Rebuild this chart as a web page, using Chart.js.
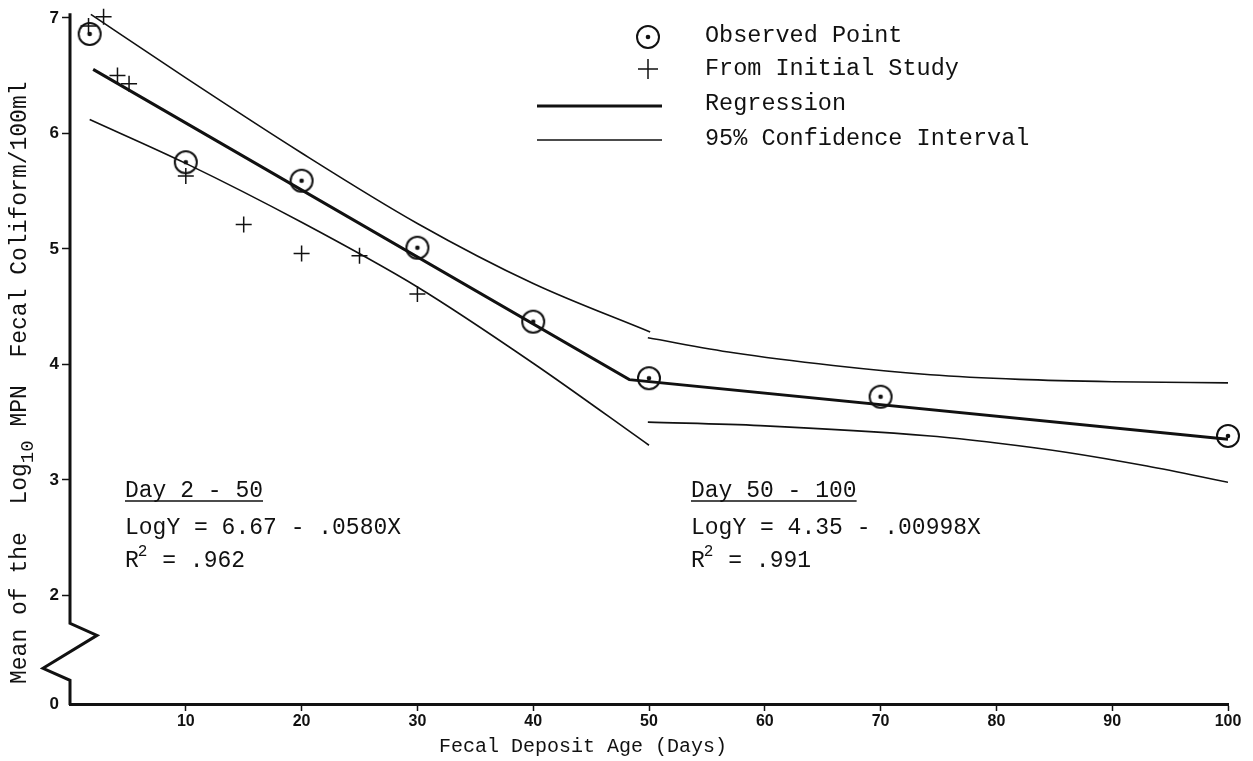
<!DOCTYPE html>
<html lang="en">
<head>
  <meta charset="UTF-8">
  <title>Fecal Coliform Die-off</title>
  <script src="https://cdn.jsdelivr.net/npm/chart.js"></script>
  <style>
    html, body { margin: 0; padding: 0; background: #fff; }
    #wrap { width: 1253px; height: 761px; }
  </style>
</head>
<body>
  <div id="wrap"><canvas id="decay"></canvas></div>

  <script>
    // observed means (circles)
    const obsX = [1.7, 10, 20, 30, 40, 50, 70, 100];
    const obsY = [6.86, 5.75, 5.59, 5.01, 4.37, 3.88, 3.72, 3.38];

    // points from the initial study (crosses)
    const initX = [1.6, 2.9, 4.1, 5.1, 10, 15, 20, 25, 30];
    const initY = [6.93, 7.01, 6.50, 6.43, 5.63, 5.21, 4.96, 4.94, 4.61];

    // regression: LogY = 6.67 - .0580X (day 2-50), LogY = 4.35 - .00998X (day 50-100)
    const regX = [2, 48.3, 100];
    const regY = [6.554, 3.868, 3.352];

    // 95% confidence bands, day 2-50
    const ciUp1X = [1.8, 10, 20, 30, 40, 50.1];
    const ciUp1Y = [7.03, 6.48, 5.83, 5.22, 4.70, 4.28];
    const ciLo1X = [1.7, 10, 20, 30, 40, 50];
    const ciLo1Y = [6.12, 5.74, 5.23, 4.67, 4.01, 3.30];

    // 95% confidence bands, day 50-100
    const ciUp2X = [49.9, 57.3, 65.9, 74.3, 82, 90, 100];
    const ciUp2Y = [4.23, 4.10, 3.99, 3.91, 3.87, 3.85, 3.84];
    const ciLo2X = [49.9, 59.6, 74.3, 80, 86, 93, 100];
    const ciLo2Y = [3.50, 3.47, 3.38, 3.32, 3.24, 3.12, 2.98];

    const xTicks = [10, 20, 30, 40, 50, 60, 70, 80, 90, 100];
    const yTicks = [2, 3, 4, 5, 6, 7];
    const yBottom = 1.06;   // broken axis: the "0" sits here
    const yTop = 7.04;

    const legendLabels = ['Observed Point', 'From Initial Study', 'Regression', '95% Confidence Interval'];
    const fit1 = { head: 'Day 2 - 50', eq: 'LogY = 6.67 - .0580X', r2: ' = .962' };
    const fit2 = { head: 'Day 50 - 100', eq: 'LogY = 4.35 - .00998X', r2: ' = .991' };

    const ink = '#111';
    const mono = '"Liberation Mono", "Courier New", monospace';
    const sans = '"Liberation Sans", Arial, sans-serif';

    const pts = (xs, ys) => xs.map((x, i) => ({ x: x, y: ys[i] }));

    // circle with a dot in the middle
    function makeObsMarker() {
      const c = document.createElement('canvas');
      c.width = 28; c.height = 28;
      const g = c.getContext('2d');
      g.strokeStyle = ink;
      g.lineWidth = 2;
      g.beginPath(); g.arc(14, 14, 11, 0, Math.PI * 2); g.stroke();
      g.fillStyle = ink;
      g.beginPath(); g.arc(14, 14, 2.3, 0, Math.PI * 2); g.fill();
      return c;
    }
    const obsMarker = makeObsMarker();

    function bandLine(xs, ys) {
      return {
        data: pts(xs, ys), showLine: true, borderColor: ink, borderWidth: 1.6,
        pointRadius: 0, cubicInterpolationMode: 'monotone', fill: false
      };
    }

    const decorations = {
      id: 'decorations',
      afterDraw(chart) {
        const ctx = chart.ctx;
        const ys = chart.scales.y;
        const ax = chart.chartArea.left;
        ctx.save();
        ctx.strokeStyle = ink;
        ctx.fillStyle = ink;

        // y axis with the break zig-zag near the bottom
        ctx.lineWidth = 3;
        ctx.lineJoin = 'miter';
        ctx.beginPath();
        ctx.moveTo(ax, chart.chartArea.top);
        ctx.lineTo(ax, ys.getPixelForValue(1.758));
        ctx.lineTo(ax + 27, ys.getPixelForValue(1.654));
        ctx.lineTo(ax - 27, ys.getPixelForValue(1.369));
        ctx.lineTo(ax, ys.getPixelForValue(1.265));
        ctx.lineTo(ax, chart.chartArea.bottom + 1);
        ctx.stroke();

        // legend
        ctx.font = '23.5px ' + mono;
        ctx.textBaseline = 'middle';
        ctx.textAlign = 'left';
        ctx.drawImage(obsMarker, 648 - 14, 37 - 14);
        ctx.lineWidth = 1.5;
        ctx.beginPath();
        ctx.moveTo(648, 59); ctx.lineTo(648, 79);
        ctx.moveTo(638, 69); ctx.lineTo(658, 69);
        ctx.stroke();
        ctx.lineWidth = 3;
        ctx.beginPath(); ctx.moveTo(537, 106); ctx.lineTo(662, 106); ctx.stroke();
        ctx.lineWidth = 1.6;
        ctx.beginPath(); ctx.moveTo(537, 140); ctx.lineTo(662, 140); ctx.stroke();
        const rows = [36, 69, 104, 139];
        legendLabels.forEach((t, i) => ctx.fillText(t, 705, rows[i]));

        // fitted equations
        function fitBlock(f, x) {
          ctx.font = '23px ' + mono;
          ctx.textBaseline = 'alphabetic';
          ctx.fillText(f.head, x, 497);
          const w = ctx.measureText(f.head).width;
          ctx.lineWidth = 1.3;
          ctx.beginPath(); ctx.moveTo(x, 501); ctx.lineTo(x + w, 501); ctx.stroke();
          ctx.fillText(f.eq, x, 534);
          ctx.fillText('R', x, 567);
          const rw = ctx.measureText('R').width;
          ctx.font = '16px ' + mono;
          ctx.fillText('2', x + rw - 1, 556);
          ctx.font = '23px ' + mono;
          ctx.fillText(f.r2, x + 1.7 * rw, 567);
        }
        fitBlock(fit1, 125);
        fitBlock(fit2, 691);

        // x axis title
        ctx.font = '20px ' + mono;
        ctx.textAlign = 'center';
        ctx.textBaseline = 'middle';
        ctx.fillText('Fecal Deposit Age (Days)', 583, 747);

        // y axis title with subscript 10
        ctx.translate(26, 684);
        ctx.rotate(-Math.PI / 2);
        ctx.textAlign = 'left';
        ctx.textBaseline = 'alphabetic';
        let px = 0;
        const part = (s, size, dy) => {
          ctx.font = size + 'px ' + mono;
          ctx.fillText(s, px, dy);
          px += ctx.measureText(s).width;
        };
        part('Mean of the  Log', 23, 0);
        part('10', 19, 7);
        part(' MPN  Fecal Coliform/100ml', 23, 0);

        ctx.restore();
      }
    };

    new Chart(document.getElementById('decay'), {
      type: 'scatter',
      data: {
        datasets: [
          {
            data: pts(regX, regY), showLine: true, borderColor: ink, borderWidth: 3,
            pointRadius: 0, fill: false
          },
          bandLine(ciUp1X, ciUp1Y),
          bandLine(ciLo1X, ciLo1Y),
          bandLine(ciUp2X, ciUp2Y),
          bandLine(ciLo2X, ciLo2Y),
          {
            data: pts(obsX, obsY), pointStyle: obsMarker, pointRadius: 11,
            borderColor: ink, backgroundColor: 'transparent', clip: false
          },
          {
            data: pts(initX, initY), pointStyle: 'cross', pointRadius: 8,
            borderColor: ink, borderWidth: 1.5, clip: false
          }
        ]
      },
      options: {
        responsive: true,
        maintainAspectRatio: false,
        animation: false,
        layout: { padding: { top: 11, right: 25, left: 0, bottom: 0 } },
        plugins: { legend: { display: false }, tooltip: { enabled: false } },
        scales: {
          x: {
            type: 'linear', min: 0, max: 100,
            afterBuildTicks: s => { s.ticks = xTicks.map(v => ({ value: v })); },
            afterFit: s => { s.height = 57; },
            border: { display: true, width: 3, color: ink },
            grid: { drawOnChartArea: false, drawTicks: true, tickLength: 7, tickColor: ink, tickWidth: 1.5 },
            ticks: {
              color: ink, padding: 1, maxRotation: 0, autoSkip: false,
              font: { family: sans, size: 16, weight: 'bold' }
            }
          },
          y: {
            type: 'linear', min: yBottom, max: yTop,
            afterBuildTicks: s => {
              s.ticks = [{ value: yBottom }].concat(yTicks.map(v => ({ value: v })));
            },
            afterFit: s => { s.width = 70; },
            border: { display: false },
            grid: {
              drawOnChartArea: false, drawTicks: true, tickLength: 8, tickWidth: 1.5,
              tickColor: c => (c.tick && c.tick.value === yBottom) ? 'rgba(0,0,0,0)' : ink
            },
            ticks: {
              color: ink, padding: 3, autoSkip: false,
              font: { family: sans, size: 17, weight: 'bold' },
              callback: v => (v === yBottom ? '0' : v)
            }
          }
        }
      },
      plugins: [decorations]
    });
  </script>
</body>
</html>
